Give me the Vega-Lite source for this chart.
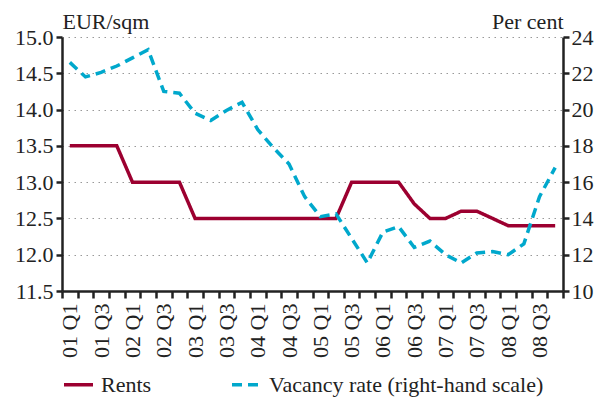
{
  "$schema": "https://vega.github.io/schema/vega-lite/v6.json",
  "width": 501,
  "height": 254,
  "autosize": "none",
  "padding": {"left": 62, "top": 37, "right": 35, "bottom": 110},
  "background": "white",
  "config": {
    "view": {"stroke": null},
    "font": "Liberation Serif",
    "axis": {"labelFont": "Liberation Serif", "titleFont": "Liberation Serif", "labelFontSize": 22, "titleFontSize": 22, "labelColor": "#222", "titleColor": "#222", "titleFontWeight": "normal"},
    "legend": {"labelFont": "Liberation Serif", "labelFontSize": 22, "labelColor": "#222", "labelLimit": 0}
  },
  "data": {
    "values": [
      {"q": "01 Q1", "rent": 13.5, "vac": 22.6},
      {"q": "01 Q2", "rent": 13.5, "vac": 21.8},
      {"q": "01 Q3", "rent": 13.5, "vac": 22.05},
      {"q": "01 Q4", "rent": 13.5, "vac": 22.4},
      {"q": "02 Q1", "rent": 13.0, "vac": 22.85},
      {"q": "02 Q2", "rent": 13.0, "vac": 23.3},
      {"q": "02 Q3", "rent": 13.0, "vac": 21.0},
      {"q": "02 Q4", "rent": 13.0, "vac": 20.9},
      {"q": "03 Q1", "rent": 12.5, "vac": 19.8},
      {"q": "03 Q2", "rent": 12.5, "vac": 19.4},
      {"q": "03 Q3", "rent": 12.5, "vac": 19.95},
      {"q": "03 Q4", "rent": 12.5, "vac": 20.4},
      {"q": "04 Q1", "rent": 12.5, "vac": 18.9},
      {"q": "04 Q2", "rent": 12.5, "vac": 17.9},
      {"q": "04 Q3", "rent": 12.5, "vac": 17.0},
      {"q": "04 Q4", "rent": 12.5, "vac": 15.2},
      {"q": "05 Q1", "rent": 12.5, "vac": 14.1},
      {"q": "05 Q2", "rent": 12.5, "vac": 14.25},
      {"q": "05 Q3", "rent": 13.0, "vac": 12.9},
      {"q": "05 Q4", "rent": 13.0, "vac": 11.55},
      {"q": "06 Q1", "rent": 13.0, "vac": 13.25},
      {"q": "06 Q2", "rent": 13.0, "vac": 13.55},
      {"q": "06 Q3", "rent": 12.7, "vac": 12.4},
      {"q": "06 Q4", "rent": 12.5, "vac": 12.75},
      {"q": "07 Q1", "rent": 12.5, "vac": 12.0},
      {"q": "07 Q2", "rent": 12.6, "vac": 11.55},
      {"q": "07 Q3", "rent": 12.6, "vac": 12.1},
      {"q": "07 Q4", "rent": 12.5, "vac": 12.17},
      {"q": "08 Q1", "rent": 12.4, "vac": 12.0},
      {"q": "08 Q2", "rent": 12.4, "vac": 12.6},
      {"q": "08 Q3", "rent": 12.4, "vac": 15.2},
      {"q": "08 Q4", "rent": 12.4, "vac": 16.8}
    ]
  },
  "encoding": {
    "x": {
      "field": "q",
      "type": "ordinal",
      "sort": null,
      "bandPosition": 0.5,
      "scale": {"type": "band", "paddingInner": 0, "paddingOuter": 0},
      "axis": {
        "title": null,
        "labelAngle": -90,
        "labelAlign": "right",
        "labelBaseline": "middle",
        "labelPadding": 5,
        "labelExpr": "test(/Q[13]$/, datum.label) ? datum.label : ''",
        "tickBand": "extent",
        "tickSize": 7,
        "tickWidth": 2.5,
        "tickColor": "#222",
        "domainColor": "#222",
        "domainWidth": 2.5,
        "grid": false
      }
    }
  },
  "layer": [
    {
      "mark": {"type": "line", "strokeWidth": 3.5, "strokeJoin": "miter"},
      "encoding": {
        "y": {
          "field": "rent",
          "type": "quantitative",
          "scale": {"domain": [11.5, 15.0], "nice": false, "zero": false},
          "axis": {
            "title": "EUR/sqm",
            "titleAngle": 0,
            "titleX": 0,
            "titleY": -9,
            "titleAlign": "left",
            "titleBaseline": "alphabetic",
            "values": [11.5, 12.0, 12.5, 13.0, 13.5, 14.0, 14.5, 15.0],
            "format": ".1f",
            "tickSize": 6,
            "tickWidth": 2.5,
            "tickColor": "#222",
            "domainColor": "#222",
            "domainWidth": 2.5,
            "labelPadding": 3,
            "grid": true,
            "gridColor": "#999",
            "gridDash": [1.5, 4.5],
            "gridWidth": 1.2
          }
        },
        "color": {
          "datum": "Rents",
          "type": "nominal",
          "scale": {"domain": ["Rents", "Vacancy rate (right-hand scale)"], "range": ["#9c0030", "#00a8cc"]},
          "legend": {
            "title": null,
            "orient": "none",
            "legendX": 0,
            "legendY": 331,
            "direction": "horizontal",
            "symbolType": "stroke",
            "symbolSize": 841,
            "symbolStrokeWidth": 3.5,
            "labelOffset": 6,
            "labelLimit": 0,
            "columnPadding": 73
          }
        },
        "strokeDash": {
          "datum": "Rents",
          "type": "nominal",
          "scale": {"domain": ["Rents", "Vacancy rate (right-hand scale)"], "range": [[1, 0], [10, 6]]},
          "legend": {
            "title": null,
            "orient": "none",
            "legendX": 0,
            "legendY": 331,
            "direction": "horizontal",
            "symbolType": "stroke",
            "symbolSize": 841,
            "symbolStrokeWidth": 3.5,
            "labelOffset": 6,
            "labelLimit": 0,
            "columnPadding": 73
          }
        }
      }
    },
    {
      "mark": {"type": "line", "strokeWidth": 3.5, "strokeJoin": "miter"},
      "encoding": {
        "y": {
          "field": "vac",
          "type": "quantitative",
          "scale": {"domain": [10, 24], "nice": false, "zero": false},
          "axis": {
            "orient": "right",
            "title": "Per cent",
            "titleAngle": 0,
            "titleX": 0,
            "titleY": -9,
            "titleAlign": "right",
            "titleBaseline": "alphabetic",
            "values": [10, 12, 14, 16, 18, 20, 22, 24],
            "tickSize": 6,
            "tickWidth": 2.5,
            "tickColor": "#222",
            "domainColor": "#222",
            "domainWidth": 2.5,
            "labelPadding": 2,
            "grid": false
          }
        },
        "color": {"datum": "Vacancy rate (right-hand scale)", "type": "nominal"},
        "strokeDash": {"datum": "Vacancy rate (right-hand scale)", "type": "nominal"}
      }
    }
  ],
  "resolve": {"scale": {"y": "independent"}}
}
